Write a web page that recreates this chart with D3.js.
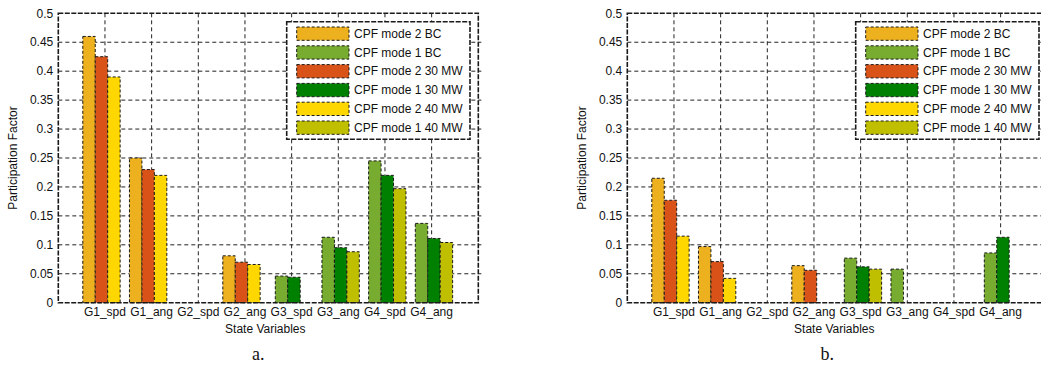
<!DOCTYPE html>
<html lang="en">
<head>
    <meta charset="UTF-8">
    <title>Participation Factor</title>
    <style>
        body { margin: 0; background: #fff; }
        svg { display: block; font-family: "Liberation Sans", Arial, sans-serif; }
        .tick-label { font-size: 12px; fill: #111; }
        .axis-title { font-size: 12px; fill: #111; }
        .caption { font-family: "Liberation Serif", "Times New Roman", serif; font-size: 18px; fill: #111; }
        .legend-text { font-size: 12px; fill: #111; }
    </style>
</head>
<body>
    <svg id="chart" width="1041" height="366"></svg>

    <script src="https://d3js.org/d3.v7.min.js"></script>
    <script>
        // State variables on the x axis
        const categories = ["G1_spd", "G1_ang", "G2_spd", "G2_ang", "G3_spd", "G3_ang", "G4_spd", "G4_ang"];
        const yTicks = [0, 0.05, 0.1, 0.15, 0.2, 0.25, 0.3, 0.35, 0.4, 0.45, 0.5];
        const yTickLabels = ["0", "0.05", "0.1", "0.15", "0.2", "0.25", "0.3", "0.35", "0.4", "0.45", "0.5"];
        const seriesNames = ["CPF mode 2 BC", "CPF mode 1 BC", "CPF mode 2 30 MW", "CPF mode 1 30 MW", "CPF mode 2 40 MW", "CPF mode 1 40 MW"];
        const captions = ["a.", "b."];

        // panel a.
        const aMode2BC = [0.46, 0.25, 0, 0.081, 0, 0, 0, 0];
        const aMode1BC = [0, 0, 0, 0, 0.046, 0.113, 0.245, 0.137];
        const aMode230 = [0.425, 0.23, 0, 0.07, 0, 0, 0, 0];
        const aMode130 = [0, 0, 0, 0, 0.044, 0.095, 0.22, 0.111];
        const aMode240 = [0.39, 0.22, 0, 0.066, 0, 0, 0, 0];
        const aMode140 = [0, 0, 0, 0, 0, 0.088, 0.197, 0.104];

        // panel b.
        const bMode2BC = [0.215, 0.097, 0, 0.064, 0, 0, 0, 0];
        const bMode1BC = [0, 0, 0, 0, 0.077, 0.058, 0, 0.086];
        const bMode230 = [0.177, 0.071, 0, 0.056, 0, 0, 0, 0];
        const bMode130 = [0, 0, 0, 0, 0.062, 0, 0, 0.113];
        const bMode240 = [0.115, 0.042, 0, 0, 0, 0, 0, 0];
        const bMode140 = [0, 0, 0, 0, 0.058, 0, 0, 0];

        const colors = ["#EDB120", "#77AC30", "#D95319", "#008000", "#FFD700", "#BFBF00"];

        // series order: mode 2 BC, mode 1 BC, mode 2 30, mode 1 30, mode 2 40, mode 1 40
        const panels = [
            { left: 58.3, series: [aMode2BC, aMode1BC, aMode230, aMode130, aMode240, aMode140], caption: captions[0] },
            { left: 627.3, series: [bMode2BC, bMode1BC, bMode230, bMode130, bMode240, bMode140], caption: captions[1] }
        ];

        const plotTop = 13.3;
        const width = 420;
        const height = 289.4;
        const groupWidth = 0.8;
        // mode 2 groups sit a little left of the tick, mode 1 groups a little right
        const modeShift = { 2: -0.075, 1: 0.05 };

        const svg = d3.select("#chart");
        svg.append("rect").attr("width", 1041).attr("height", 366).attr("fill", "#fff");

        panels.forEach(function(p) {
            const g = svg.append("g").attr("transform", "translate(" + p.left + "," + plotTop + ")");

            const x = d3.scaleLinear().domain([0, categories.length + 1]).range([0, width]);
            const y = d3.scaleLinear().domain([0, 0.5]).range([height, 0]);
            const barW = x(groupWidth / 3) - x(0);

            // grid
            g.append("g").selectAll("line")
                .data(d3.range(1, categories.length + 1))
                .enter().append("line")
                .attr("x1", d => x(d)).attr("x2", d => x(d))
                .attr("y1", 0).attr("y2", height)
                .attr("stroke", "#222").attr("stroke-width", 1)
                .attr("stroke-dasharray", "4,3");

            g.append("g").selectAll("line")
                .data(yTicks.slice(1, -1))
                .enter().append("line")
                .attr("x1", 0).attr("x2", width)
                .attr("y1", d => y(d)).attr("y2", d => y(d))
                .attr("stroke", "#222").attr("stroke-width", 1)
                .attr("stroke-dasharray", "4,3");

            // bars
            const bars = [];
            p.series.forEach(function(vals, s) {
                const mode = s % 2 === 0 ? 2 : 1;
                const slot = Math.floor(s / 2);
                vals.forEach(function(v, i) {
                    if (v > 0) bars.push({ v: v, i: i, mode: mode, slot: slot, color: colors[s] });
                });
            });

            g.append("g").selectAll("rect")
                .data(bars)
                .enter().append("rect")
                .attr("x", d => x(d.i + 1 + modeShift[d.mode] - groupWidth / 2 + d.slot * groupWidth / 3))
                .attr("y", d => y(d.v))
                .attr("width", barW)
                .attr("height", d => y(0) - y(d.v))
                .attr("fill", d => d.color)
                .attr("stroke", "#1a1a1a")
                .attr("stroke-width", 1)
                .attr("stroke-dasharray", "3,2");

            // box
            g.append("rect")
                .attr("x", 0).attr("y", 0)
                .attr("width", width).attr("height", height)
                .attr("fill", "none")
                .attr("stroke", "#1a1a1a").attr("stroke-width", 1.6)
                .attr("stroke-dasharray", "5,1.5");

            // small ticks on the right edge
            g.append("g").selectAll("line")
                .data(yTicks.slice(1, -1))
                .enter().append("line")
                .attr("x1", width).attr("x2", width + 3)
                .attr("y1", d => y(d)).attr("y2", d => y(d))
                .attr("stroke", "#222");

            // y tick labels
            g.append("g").selectAll("text")
                .data(yTicks)
                .enter().append("text")
                .attr("class", "tick-label")
                .attr("x", -5)
                .attr("y", d => y(d))
                .attr("dy", "0.35em")
                .attr("text-anchor", "end")
                .text((d, i) => yTickLabels[i]);

            // x tick labels
            g.append("g").selectAll("text")
                .data(categories)
                .enter().append("text")
                .attr("class", "tick-label")
                .attr("x", (d, i) => x(i + 1))
                .attr("y", height + 13.5)
                .attr("text-anchor", "middle")
                .text(d => d);

            g.append("text")
                .attr("class", "axis-title")
                .attr("x", width / 2 - 3)
                .attr("y", height + 30.5)
                .attr("text-anchor", "middle")
                .text("State Variables");

            g.append("text")
                .attr("class", "axis-title")
                .attr("transform", "rotate(-90)")
                .attr("x", -height / 2)
                .attr("y", -41.6)
                .attr("text-anchor", "middle")
                .text("Participation Factor");

            g.append("text")
                .attr("class", "caption")
                .attr("x", width / 2 - 10)
                .attr("y", height + 57)
                .attr("text-anchor", "middle")
                .text(p.caption);

            // legend
            const lg = g.append("g").attr("transform", "translate(" + (width - 191.6) + ",8.4)");
            lg.append("rect")
                .attr("width", 183.3).attr("height", 117.6)
                .attr("fill", "#fff")
                .attr("stroke", "#1a1a1a").attr("stroke-width", 1.6)
                .attr("stroke-dasharray", "5,1.5");

            const rows = lg.selectAll("g.row")
                .data(seriesNames)
                .enter().append("g")
                .attr("class", "row")
                .attr("transform", (d, i) => "translate(10," + (5.3 + i * 18.8) + ")");

            rows.append("rect")
                .attr("width", 52.3).attr("height", 13.3)
                .attr("fill", (d, i) => colors[i])
                .attr("stroke", "#1a1a1a").attr("stroke-width", 1)
                .attr("stroke-dasharray", "3,2");

            rows.append("text")
                .attr("class", "legend-text")
                .attr("x", 57.3)
                .attr("y", 6.65)
                .attr("dy", "0.35em")
                .text(d => d);
        });
    </script>
</body>
</html>
